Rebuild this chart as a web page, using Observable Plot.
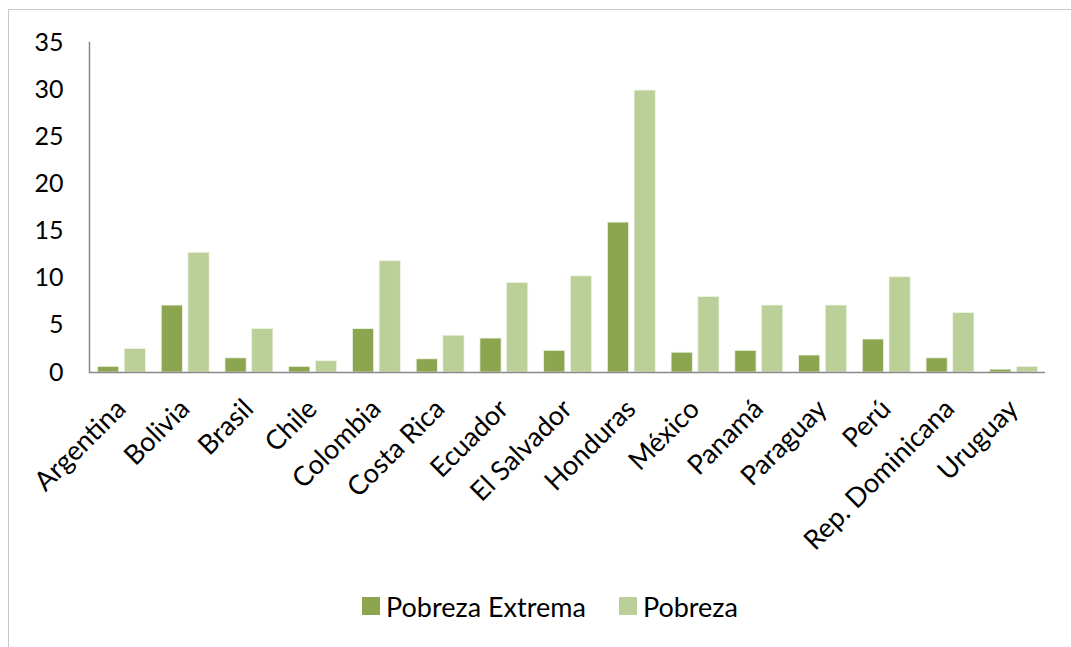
<!DOCTYPE html>
<html>
<head>
<meta charset="utf-8">
<script src="https://cdn.jsdelivr.net/npm/d3@7"></script>
<script src="https://cdn.jsdelivr.net/npm/@observablehq/plot@0.6"></script>
<style>
  html, body { margin: 0; padding: 0; background: #fff; }
  body { width: 1071px; height: 647px; position: relative; overflow: hidden; font-family: Lato, "Open Sans", sans-serif; }
  #border { position: absolute; left: 8px; top: 9px; width: 1100px; height: 700px; border-left: 1.5px solid #c8c8c8; border-top: 1.5px solid #c8c8c8; box-sizing: border-box; }
  #chart { position: absolute; left: 0; top: 0; }
  #legend { position: absolute; left: 0; top: 575px; width: 1071px; display: flex; justify-content: center; align-items: center; padding-left: 29px; box-sizing: border-box; height: 62px; font-size: 27px; color: #000; }
  .item { display: flex; align-items: center; }
  .sw { width: 18px; height: 18px; margin-right: 6px; }
</style>
</head>
<body>
<div id="border"></div>
<div id="chart"></div>
<div id="legend"></div>
<script>
const countries = ["Argentina","Bolivia","Brasil","Chile","Colombia","Costa Rica","Ecuador","El Salvador","Honduras","México","Panamá","Paraguay","Perú","Rep. Dominicana","Uruguay"];
const pobrezaExtrema = [0.6,7.1,1.5,0.6,4.6,1.4,3.6,2.3,15.9,2.1,2.3,1.8,3.5,1.5,0.3];
const pobreza = [2.5,12.7,4.6,1.2,11.8,3.9,9.5,10.2,29.9,8.0,7.1,7.1,10.1,6.3,0.6];
const seriesNames = ["Pobreza Extrema","Pobreza"];
const seriesColors = ["#8ba64e","#bbcf98"];
const yTicks = [0,5,10,15,20,25,30,35];

const rows = countries.map((c, i) => ({country: c, extrema: pobrezaExtrema[i], pobreza: pobreza[i]}));

const width = 1071, height = 575, ml = 89, mr = 26, mt = 42, mb = 203;
const step = (width - ml - mr) / countries.length;
const barW = 21.2, off1 = 8.5, off2 = 35.2;

const chart = Plot.plot({
  width, height,
  marginLeft: ml, marginRight: mr, marginTop: mt, marginBottom: mb,
  style: {fontFamily: "Lato, 'Open Sans', sans-serif", fontSize: "25px", color: "#000", background: "transparent", overflow: "visible"},
  x: {domain: countries, padding: 0, round: false, label: null, axis: null},
  y: {domain: [0, 35], ticks: yTicks, label: null, tickSize: 0, tickPadding: 26},
  marks: [
    Plot.barY(rows, {x: "country", y: "extrema", fill: seriesColors[0], stroke: "#eef3e4", strokeWidth: 0.8, insetLeft: off1, insetRight: step - off1 - barW}),
    Plot.barY(rows, {x: "country", y: "pobreza", fill: seriesColors[1], stroke: "#eef3e4", strokeWidth: 0.8, insetLeft: off2, insetRight: step - off2 - barW}),
    Plot.ruleY([0], {stroke: "#888", strokeWidth: 1.5}),
    Plot.frame({anchor: "left", stroke: "#888", strokeWidth: 1.5}),
    Plot.axisX({tickSize: 0, tickRotate: -45, tickPadding: 32, fontSize: 27, label: null})
  ]
});
document.getElementById("chart").appendChild(chart);

const legend = document.getElementById("legend");
seriesNames.forEach((name, i) => {
  const item = document.createElement("div");
  item.className = "item";
  if (i > 0) item.style.marginLeft = "33px";
  const sw = document.createElement("div");
  sw.className = "sw";
  sw.style.background = seriesColors[i];
  const t = document.createElement("span");
  t.textContent = name;
  item.appendChild(sw); item.appendChild(t);
  legend.appendChild(item);
});
</script>
</body>
</html>
